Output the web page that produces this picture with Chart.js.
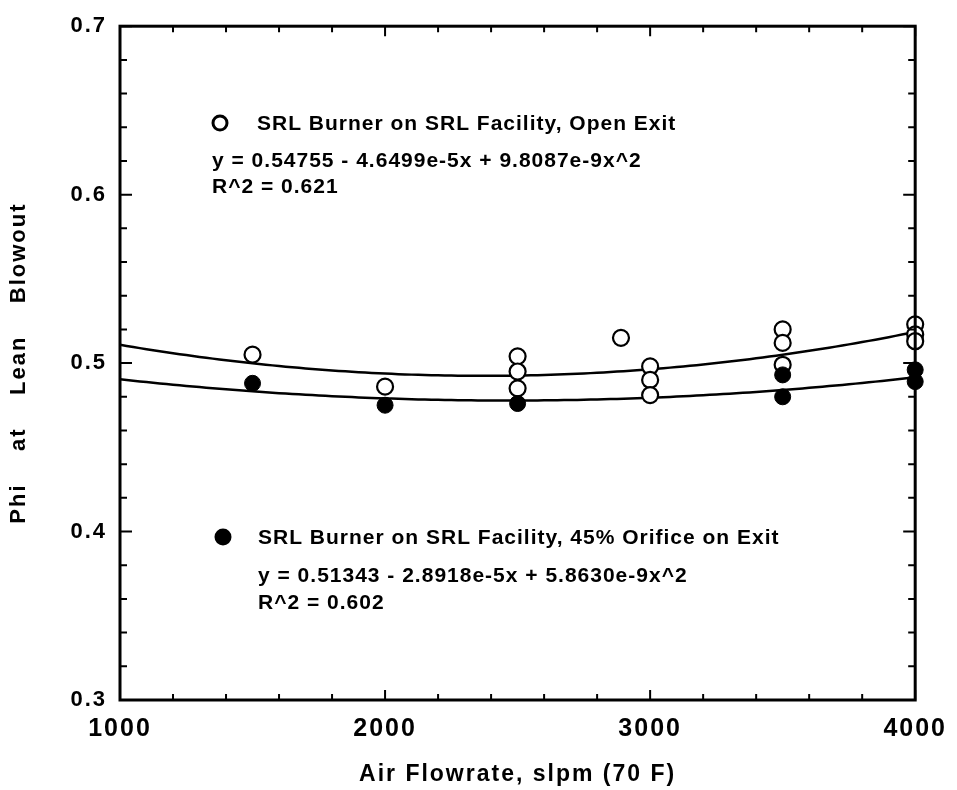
<!DOCTYPE html>
<html>
<head>
<meta charset="utf-8">
<script src="https://cdn.jsdelivr.net/npm/chart.js@4.4.0/dist/chart.umd.min.js"></script>
<style>
  html, body { margin: 0; padding: 0; background: #fff; }
  #wrap { width: 957px; height: 790px; }
</style>
</head>
<body>
<div id="wrap"><canvas id="blowout"></canvas></div>
<script>
// open exit runs
const openX = [1500, 2000, 2500, 2500, 2500, 2890, 3000, 3000, 3000, 3500, 3500, 3500, 4000, 4000, 4000];
const openPhi = [0.505, 0.486, 0.504, 0.495, 0.485, 0.515, 0.498, 0.490, 0.481, 0.520, 0.512, 0.499, 0.523, 0.517, 0.513];

// 45% orifice on exit runs
const orificeX = [1500, 2000, 2500, 3500, 3500, 4000, 4000];
const orificePhi = [0.488, 0.475, 0.476, 0.493, 0.480, 0.496, 0.489];

// quadratic fits: c0 + c1*x + c2*x^2
const openFit = [0.54755, -4.6499e-5, 9.8087e-9];
const orificeFit = [0.51343, -2.8918e-5, 5.8630e-9];

const xTicks = [1000, 2000, 3000, 4000];
const yTicks = [0.3, 0.4, 0.5, 0.6, 0.7];

const toPoints = (xs, ys) => xs.map((x, i) => ({ x: x, y: ys[i] }));

function fitCurve(c) {
  const pts = [];
  for (let x = xTicks[0]; x <= xTicks[xTicks.length - 1]; x += 50) {
    pts.push({ x: x, y: c[0] + c[1] * x + c[2] * x * x });
  }
  return pts;
}

const FONT = '"Liberation Sans", Arial, sans-serif';

// box around the plot with inward tick marks on all four sides
const frameTicks = {
  id: 'frameTicks',
  afterDatasetsDraw(chart) {
    const { ctx, chartArea: a, scales: { x, y } } = chart;
    ctx.save();
    ctx.strokeStyle = '#000';
    ctx.lineWidth = 2;
    ctx.beginPath();
    for (let i = 0; i <= 15; i++) {
      const px = x.getPixelForValue(1000 + i * 200);
      const len = i % 5 === 0 ? 10 : 6;
      ctx.moveTo(px, a.bottom); ctx.lineTo(px, a.bottom - len);
      ctx.moveTo(px, a.top); ctx.lineTo(px, a.top + len);
    }
    for (let i = 0; i <= 20; i++) {
      const py = y.getPixelForValue(0.3 + i * 0.02);
      const len = i % 5 === 0 ? 12 : 7;
      ctx.moveTo(a.left, py); ctx.lineTo(a.left + len, py);
      ctx.moveTo(a.right, py); ctx.lineTo(a.right - len, py);
    }
    ctx.stroke();
    ctx.lineWidth = 3;
    ctx.strokeRect(a.left, a.top, a.right - a.left, a.bottom - a.top);
    ctx.restore();
  }
};

// legend entries and fit equations written inside the plot
const notes = {
  id: 'notes',
  afterDraw(chart) {
    const ctx = chart.ctx;
    ctx.save();
    ctx.letterSpacing = '1px';
    ctx.fillStyle = '#000';
    ctx.strokeStyle = '#000';
    ctx.font = 'bold 21px ' + FONT;
    ctx.textBaseline = 'middle';
    ctx.textAlign = 'left';

    ctx.lineWidth = 3;
    ctx.beginPath();
    ctx.arc(220, 123, 7, 0, Math.PI * 2);
    ctx.stroke();
    ctx.fillText('SRL Burner on SRL Facility, Open Exit', 257, 124);
    ctx.fillText('y = 0.54755 - 4.6499e-5x + 9.8087e-9x^2', 212, 161);
    ctx.fillText('R^2 = 0.621', 212, 187);

    ctx.beginPath();
    ctx.arc(223, 537, 8.5, 0, Math.PI * 2);
    ctx.fill();
    ctx.fillText('SRL Burner on SRL Facility, 45% Orifice on Exit', 258, 538);
    ctx.fillText('y = 0.51343 - 2.8918e-5x + 5.8630e-9x^2', 258, 576);
    ctx.fillText('R^2 = 0.602', 258, 603);
    ctx.restore();
  }
};

// slightly spread letters for the axis text
const spacing = {
  id: 'spacing',
  beforeDraw(chart) { chart.ctx.letterSpacing = '2px'; },
  afterDatasetsDraw(chart) { chart.ctx.letterSpacing = '0px'; }
};

new Chart(document.getElementById('blowout'), {
  type: 'scatter',
  data: {
    datasets: [
      {
        type: 'line',
        data: fitCurve(openFit),
        borderColor: '#000',
        borderWidth: 2.5,
        pointRadius: 0,
        tension: 0.3,
        fill: false,
        order: 3
      },
      {
        type: 'line',
        data: fitCurve(orificeFit),
        borderColor: '#000',
        borderWidth: 2.5,
        pointRadius: 0,
        tension: 0.3,
        fill: false,
        order: 3
      },
      {
        label: 'SRL Burner on SRL Facility, Open Exit',
        data: toPoints(openX, openPhi),
        pointRadius: 8,
        pointBackgroundColor: '#fff',
        pointBorderColor: '#000',
        pointBorderWidth: 2.2,
        clip: false,
        order: 2
      },
      {
        label: 'SRL Burner on SRL Facility, 45% Orifice on Exit',
        data: toPoints(orificeX, orificePhi),
        pointRadius: 8,
        pointBackgroundColor: '#000',
        pointBorderColor: '#000',
        pointBorderWidth: 1,
        clip: false,
        order: 1
      }
    ]
  },
  options: {
    responsive: true,
    maintainAspectRatio: false,
    animation: false,
    layout: { padding: { top: 15, right: 41, left: 0, bottom: 0 } },
    plugins: {
      legend: { display: false },
      tooltip: { enabled: false }
    },
    scales: {
      x: {
        type: 'linear',
        min: 1000,
        max: 4000,
        afterBuildTicks: s => { s.ticks = xTicks.map(v => ({ value: v })); },
        afterFit: s => { s.height = 90; },
        grid: { display: false, drawTicks: false },
        border: { display: false },
        ticks: {
          color: '#000',
          font: { family: FONT, size: 25, weight: 'bold' },
          padding: 14,
          maxRotation: 0,
          callback: v => String(v)
        },
        title: {
          display: true,
          text: 'Air Flowrate, slpm (70 F)',
          color: '#000',
          font: { family: FONT, size: 23, weight: 'bold' },
          padding: { top: 0, bottom: 2 }
        }
      },
      y: {
        type: 'linear',
        min: 0.3,
        max: 0.7,
        afterBuildTicks: s => { s.ticks = yTicks.map(v => ({ value: v })); },
        afterFit: s => { s.width = 120; },
        grid: { display: false, drawTicks: false },
        border: { display: false },
        ticks: {
          color: '#000',
          font: { family: FONT, size: 22, weight: 'bold' },
          padding: 13,
          callback: v => v.toFixed(1)
        },
        title: {
          display: true,
          text: 'Phi    at    Lean    Blowout',
          color: '#000',
          font: { family: FONT, size: 22, weight: 'bold' },
          padding: { top: 6, bottom: 0 }
        }
      }
    }
  },
  plugins: [spacing, frameTicks, notes]
});
</script>
</body>
</html>
